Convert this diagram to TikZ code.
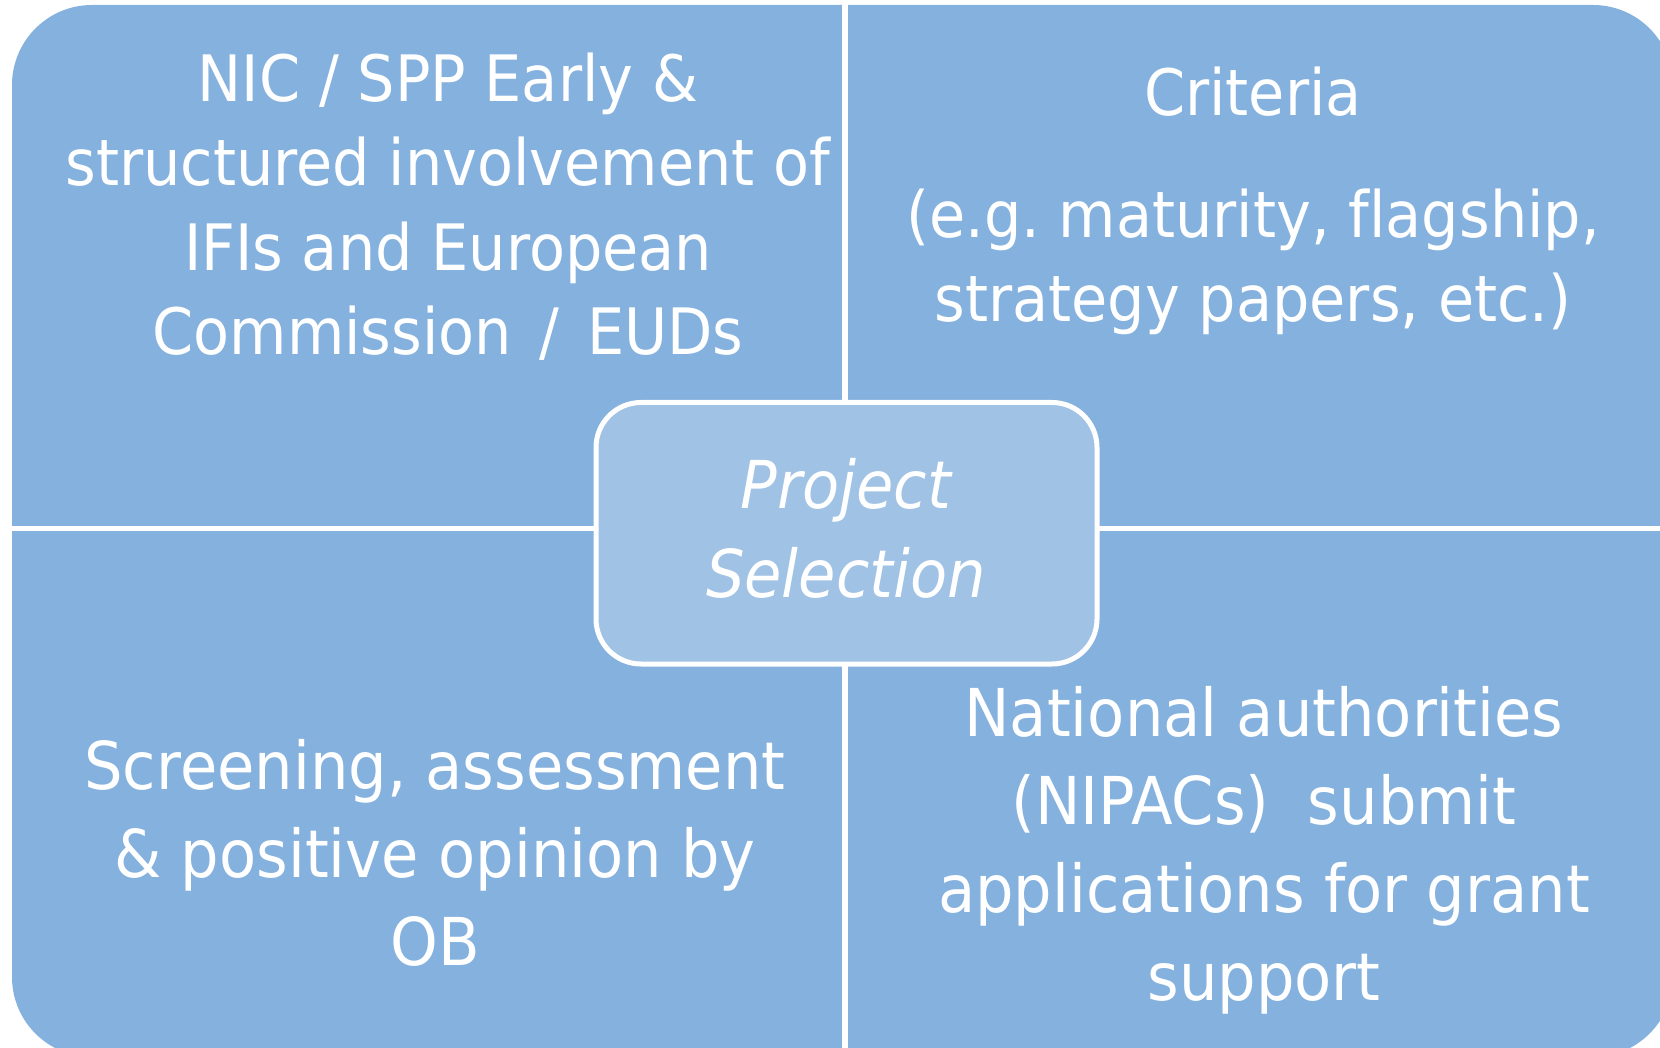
\documentclass[tikz,border=0pt]{standalone}
\usepackage{fontspec}
\setmainfont{DejaVu Sans}[FakeStretch=0.92, Ligatures=NoCommon]
\definecolor{qfill}{HTML}{84B1DE}
\definecolor{cfill}{HTML}{A0C2E5}
\frenchspacing
\begin{document}
\begin{tikzpicture}[x=1pt,y=-1pt,
  quadtext/.style={text=white, align=center, inner sep=0pt, anchor=base},
  smalltext/.style={font=\fontsize{64}{84.5}\selectfont},
  bigtext/.style={font=\fontsize{66}{88}\selectfont},
  centerbox/.style={draw=white, line width=5pt, fill=cfill, rounded corners=45pt,
    minimum width=501pt, minimum height=261.5pt, inner sep=0pt},
  divider/.style={draw=white, line width=5.5pt}]
\useasboundingbox (0,0) rectangle (1660,1048);
\clip (0,0) rectangle (1660,1048);
\fill[qfill, rounded corners=80pt] (12,5) rectangle (1673,1057);
\coordinate (vtop) at (845,0);
\coordinate (vbot) at (845,1048);
\coordinate (hleft) at (12,528);
\coordinate (hright) at (1660,528);
\draw[divider] (vtop) -- (vbot);
\draw[divider, line width=5pt] (hleft) -- (hright);
\node[centerbox] (sel) at (846.5,533.25) {};
\node[quadtext, font=\itshape\fontsize{66}{89}\selectfont] (seltext) at (846,597) {Project\\Selection};
\node[quadtext, smalltext] (tl) at (448,355) {NIC / SPP Early \&\\structured involvement of\\IFIs and European\\Commission\hspace{9pt} / \hspace{9pt}EUDs};
\node[quadtext, smalltext] (tr) at (1253,322) {Criteria\\[37pt](e.g. maturity, flagship,\\strategy papers, etc.)};
\node[quadtext, bigtext] (bl) at (435,965) {Screening, assessment\\\& positive opinion by\\OB};
\node[quadtext, bigtext] (br) at (1264,1000) {National authorities\\(NIPACs)\ \ submit\\applications for grant\\support};
\end{tikzpicture}
\end{document}
